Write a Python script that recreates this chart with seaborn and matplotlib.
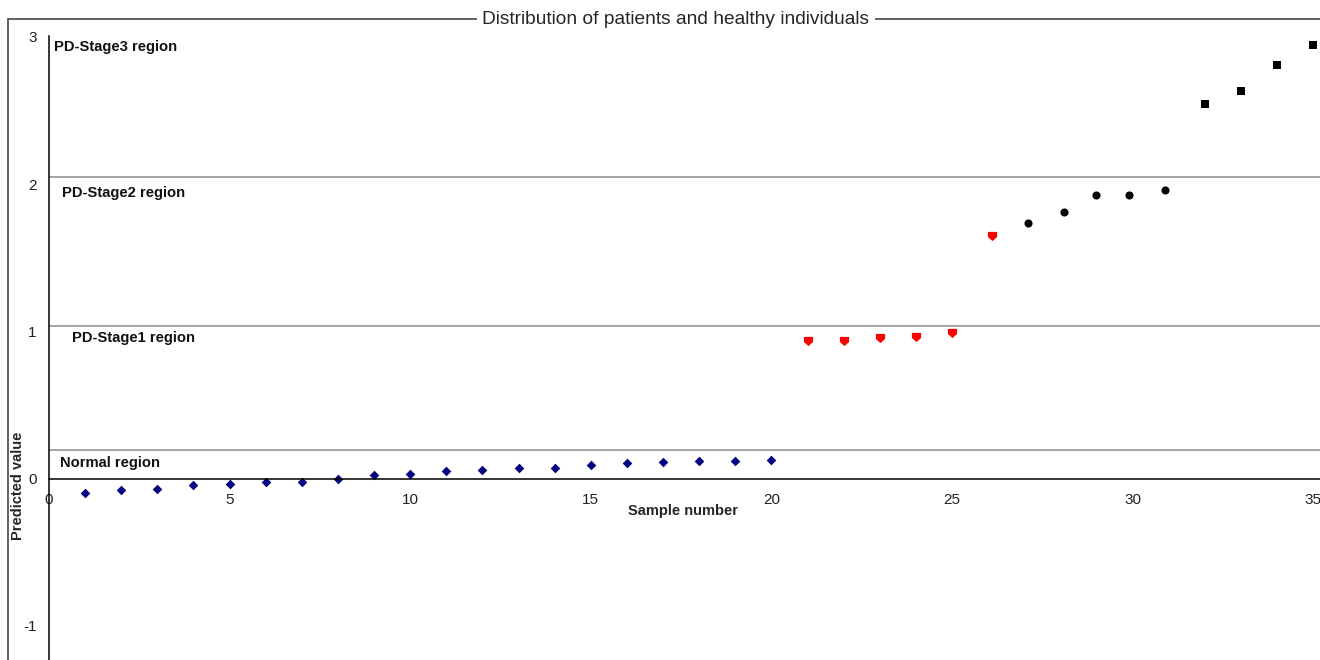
import numpy as np
import pandas as pd
import seaborn as sns
import matplotlib.pyplot as plt
from matplotlib.lines import Line2D

# values
normal_x = list(range(1, 21))
normal_y = [-0.097, -0.075, -0.068, -0.045, -0.036, -0.022, -0.022, -0.004, 0.023, 0.032,
            0.052, 0.061, 0.075, 0.075, 0.091, 0.107, 0.113, 0.120, 0.120, 0.127]
stage1_x = [21, 22, 23, 24, 25, 26.1]
stage1_y = [0.937, 0.937, 0.958, 0.965, 0.988, 1.647]
stage2_x = [27.1, 28.1, 29.0, 29.9, 30.9]
stage2_y = [1.737, 1.810, 1.929, 1.929, 1.959]
stage3_x = [32, 33, 34, 35]
stage3_y = [2.546, 2.636, 2.808, 2.944]

# region boundaries and labels
boundaries = [2.048, 1.039, 0.195]
region_labels = ["PD-Stage3 region", "PD-Stage2 region", "PD-Stage1 region", "Normal region"]
label_pos = [(0.14, 2.93), (0.36, 1.94), (0.64, 0.956), (0.30, 0.107)]

sns.set_style("white")
plt.rcParams['font.family'] = ['Liberation Sans', 'DejaVu Sans']
plt.rcParams['axes.unicode_minus'] = False

W, H = 1320, 660
fig = plt.figure(figsize=(W / 100, H / 100), dpi=100)
ax = fig.add_axes([49 / W, 0, 1 - 49 / W, 1 - 35.5 / H])

# Excel-like down-pointing pentagon
down_pentagon = [(-1, 1), (1, 1), (1, -0.1), (0, -1), (-1, -0.1), (-1, 1)]

sns.scatterplot(x=normal_x, y=normal_y, ax=ax, marker="D", color="#000080", s=24,
                edgecolor="#000080", linewidth=0)
sns.scatterplot(x=stage1_x, y=stage1_y, ax=ax, marker=down_pentagon, color="#ff0000", s=44,
                edgecolor="#ff0000", linewidth=0)
sns.scatterplot(x=stage2_x, y=stage2_y, ax=ax, marker="o", color="black", s=34,
                edgecolor="black", linewidth=0)
sns.scatterplot(x=stage3_x, y=stage3_y, ax=ax, marker="s", color="black", s=34,
                edgecolor="black", linewidth=0)

for b in boundaries:
    ax.axhline(b, color="#8c8c8c", lw=1.1, zorder=1)

for lab, (lx, ly) in zip(region_labels, label_pos):
    ax.text(lx, ly, lab, fontsize=10.6, fontweight="bold", va="center", ha="left",
            color="#111111")

ax.set_xlim(0, (W - 49) / 36.12)
ax.set_ylim(-1.232, 3.01)
ax.set_xticks([0, 5, 10, 15, 20, 25, 30, 35])
ax.set_yticks([-1, 0, 1, 2, 3])
ax.spines['top'].set_visible(False)
ax.spines['right'].set_visible(False)
ax.spines['bottom'].set_position(('data', 0))
for sp in ['left', 'bottom']:
    ax.spines[sp].set_color("black")
    ax.spines[sp].set_linewidth(1.1)
ax.tick_params(axis='x', direction='inout', length=7, width=1, pad=7, labelsize=11,
               colors="black")
ax.tick_params(axis='y', direction='out', length=3, width=1, pad=6, labelsize=11,
               colors="black")
for t in ax.get_xticklabels() + ax.get_yticklabels():
    t.set_color("#222222")
ax.set_xlabel("")
ax.set_ylabel("")

# outer chart frame (top and left)
frame_col = "#555555"
fig.add_artist(Line2D([8 / W, 1], [1 - 19 / H, 1 - 19 / H], color=frame_col, lw=1.3,
                      transform=fig.transFigure))
fig.add_artist(Line2D([8 / W, 8 / W], [0, 1 - 19 / H], color=frame_col, lw=1.3,
                      transform=fig.transFigure))

fig.text(676 / W, 1 - 19 / H, "Distribution of patients and healthy individuals",
         fontsize=13.8, ha="center", va="center",
         bbox=dict(facecolor="white", edgecolor="none", pad=4))
fig.text(683 / W, 1 - 511 / H, "Sample number", fontsize=10.5, fontweight="bold",
         ha="center", va="center")
fig.text(18 / W, 1 - 486 / H, "Predicted value", fontsize=10.5, fontweight="bold",
         ha="center", va="center", rotation=90)

fig.savefig("out.png", dpi=100)
